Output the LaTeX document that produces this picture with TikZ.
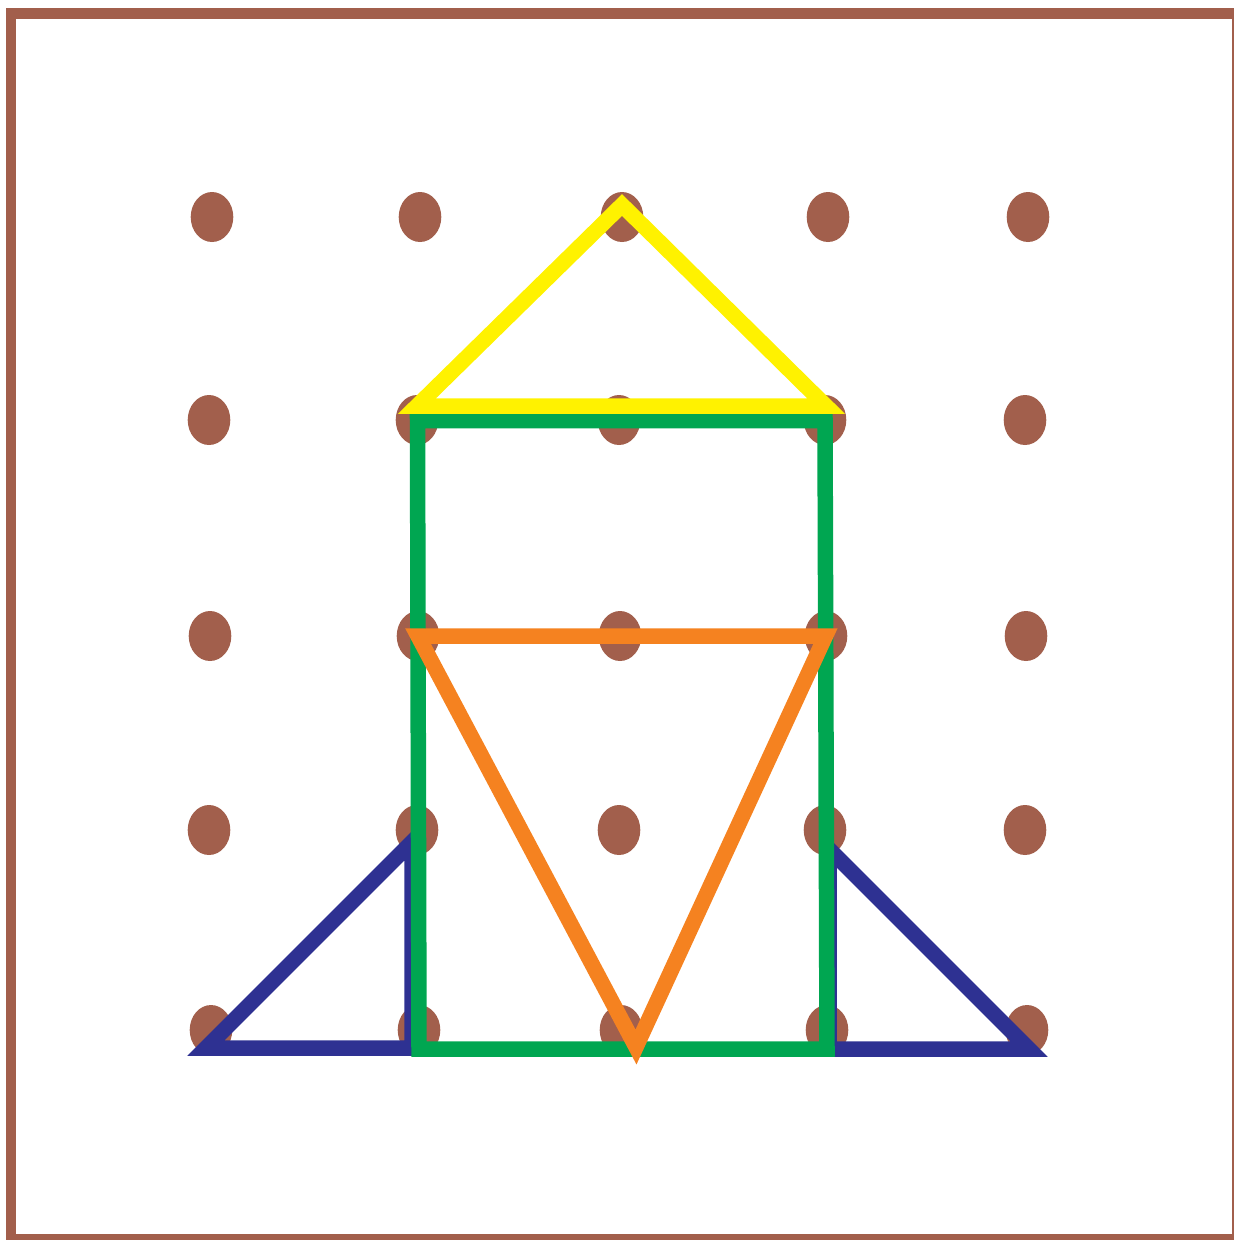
\documentclass[tikz,border=0pt]{standalone}
\definecolor{peg}{HTML}{A25F4C}
\definecolor{gyellow}{HTML}{FFF200}
\definecolor{ggreen}{HTML}{00A651}
\definecolor{gorange}{HTML}{F58220}
\definecolor{gblue}{HTML}{2E3192}
\begin{document}
\begin{tikzpicture}[x=1pt,y=-1pt,
  pegdot/.style={fill=peg,draw=none},
  band/.style={line width=15.5pt,line join=miter,miter limit=10}]
\useasboundingbox (0,0) rectangle (1234,1240);
\begin{scope}
\clip (0,0) rectangle (1234,1240);
\draw[peg,line width=10.5pt] (11,13.5) rectangle (1237,1239);
\end{scope}
% pegs
\foreach \r/\y/\xa/\xb/\xc/\xd/\xe in {1/217/212/420/622/828/1028,
  2/420/209/417/619/825/1025, 3/636/210/418/620/826/1026,
  4/830/209/417/619/825/1025, 5/1030/211/419/621/827/1027}{
  \coordinate (p\r-1) at (\xa,\y);
  \coordinate (p\r-2) at (\xb,\y);
  \coordinate (p\r-3) at (\xc,\y);
  \coordinate (p\r-4) at (\xd,\y);
  \coordinate (p\r-5) at (\xe,\y);
  \foreach \c in {1,...,5}{\fill[pegdot] (p\r-\c) ellipse [x radius=21.3pt, y radius=25pt];}
}
% band corners
\coordinate (bl1) at (412,842);  \coordinate (bl2) at (206,1048); \coordinate (bl3) at (412,1048);
\coordinate (br1) at (829,849);  \coordinate (br2) at (1029,1049); \coordinate (br3) at (829,1049);
\coordinate (g1) at (417.5,420.5); \coordinate (g2) at (825,420.5);
\coordinate (g3) at (827,1049);    \coordinate (g4) at (419,1049);
\coordinate (o1) at (418,636); \coordinate (o2) at (825.5,636); \coordinate (o3) at (636,1047);
\coordinate (y1) at (622,205); \coordinate (y2) at (417,406); \coordinate (y3) at (826,406);
% bands
\draw[band,gblue] (bl1) -- (bl2) -- (bl3) -- cycle;
\draw[band,gblue] (br1) -- (br2) -- (br3) -- cycle;
\draw[band,ggreen] (g1) -- (g2) -- (g3) -- (g4) -- cycle;
\draw[band,gorange] (o1) -- (o2) -- (o3) -- cycle;
\draw[band,gyellow] (y1) -- (y2) -- (y3) -- cycle;
\end{tikzpicture}
\end{document}
